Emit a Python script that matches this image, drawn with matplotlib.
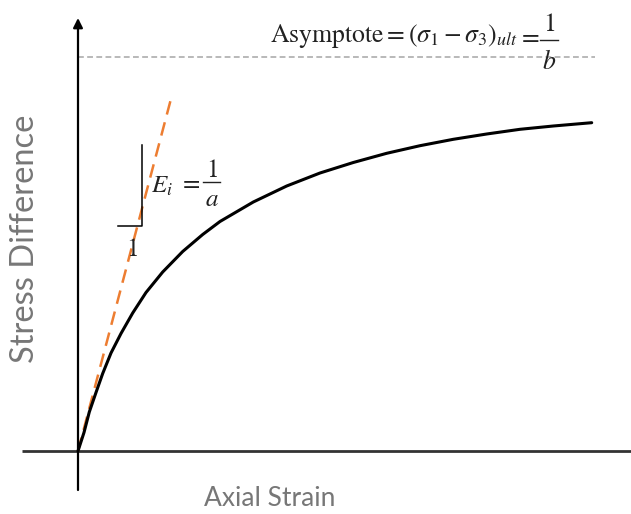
import matplotlib
matplotlib.use("Agg")
import matplotlib.pyplot as plt

plt.rcParams['mathtext.fontset'] = 'stix'

# Hyperbolic stress-strain curve (arbitrary units)
strain = [0, 6, 11.3, 18, 24.7, 33, 43, 54.7, 68, 84.7, 104.7, 124.7, 142,
          175.3, 208.7, 242, 275.3, 308.7, 342, 375.3, 408.7, 442, 475.3, 513.7]
stress = [0, 18.5, 39, 58.5, 77.5, 98, 117.5, 138, 158.5, 179, 199.5, 216.5, 229.5,
          249, 265, 278, 288.5, 297.7, 305.3, 311.7, 317, 321.7, 325, 328.3]

# Initial tangent (slope E_i = 1/a)
tangent_strain = [0, 94]
tangent_stress = [0, 356]

# Asymptote (sigma1 - sigma3)_ult = 1/b
asym_strain = [0, 517]
asym_stress = [394, 394]

# Slope triangle legs
tri_x = [40, 64, 64]
tri_y = [225, 225, 306]

x_label = "Axial Strain"
y_label = "Stress Difference"
asym_left = r"$\mathrm{Asymptote}=\left(\sigma_1-\sigma_3\right)_{ult}$"
ei_left = r"$E_i$"

fig = plt.figure(figsize=(6.31, 5.14), dpi=100)
ax = fig.add_axes([0, 0, 1, 1])
ax.set_xlim(-78, 553)
ax.set_ylim(-63, 451)
ax.axis('off')

# axes
ax.plot([-56, 553], [0, 0], color='#333333', lw=2.0, solid_capstyle='butt')
ax.annotate('', xy=(0, 433), xytext=(0, -39),
            arrowprops=dict(arrowstyle='-|>', lw=1.6, color='black',
                            mutation_scale=14, shrinkA=0, shrinkB=0))

# asymptote
ax.plot(asym_strain, asym_stress, color='#a6a6a6', lw=1.1, dashes=(3.8, 2.2))
# tangent
ax.plot(tangent_strain, tangent_stress, color='#ed7d31', lw=1.8, dashes=(5.5, 3.2))
# curve
ax.plot(strain, stress, color='black', lw=2.2, solid_capstyle='round', solid_joinstyle='round')

# slope triangle
ax.plot(tri_x, tri_y, color='black', lw=1.1)

tc = '#222222'
# Asymptote equation
ax.text(192, 409, asym_left, fontsize=18.5, ha='left', va='baseline', color=tc)
ax.text(451.5, 415.5, r"$=$", fontsize=18.5, ha='center', va='center', color=tc)
ax.text(471, 427, r"$1$", fontsize=18.5, ha='center', va='center', color=tc)
ax.plot([462, 480], [411, 411], color=tc, lw=1.0)
ax.text(471, 389, r"$b$", fontsize=18.5, ha='center', va='center', color=tc)

# E_i equation
ax.text(73, 258, ei_left, fontsize=18, ha='left', va='baseline', color=tc)
ax.text(112, 268.5, r"$=$", fontsize=18, ha='center', va='center', color=tc)
ax.text(133.5, 281, r"$1$", fontsize=18, ha='center', va='center', color=tc)
ax.plot([125, 142], [269.3, 269.3], color=tc, lw=1.0)
ax.text(134, 252, r"$a$", fontsize=18, ha='center', va='center', color=tc)

# run of slope triangle
ax.text(54, 202, r"$1$", fontsize=18, ha='center', va='center', color=tc)

ax.text(192, -48, x_label, fontsize=19, family='Lato', color='#777777', ha='center', va='center')
ax.text(-53, 212.5, y_label, fontsize=23.5, family='Lato', color='#777777', ha='center', va='center',
        rotation=90)

fig.savefig('out.png', dpi=100)
